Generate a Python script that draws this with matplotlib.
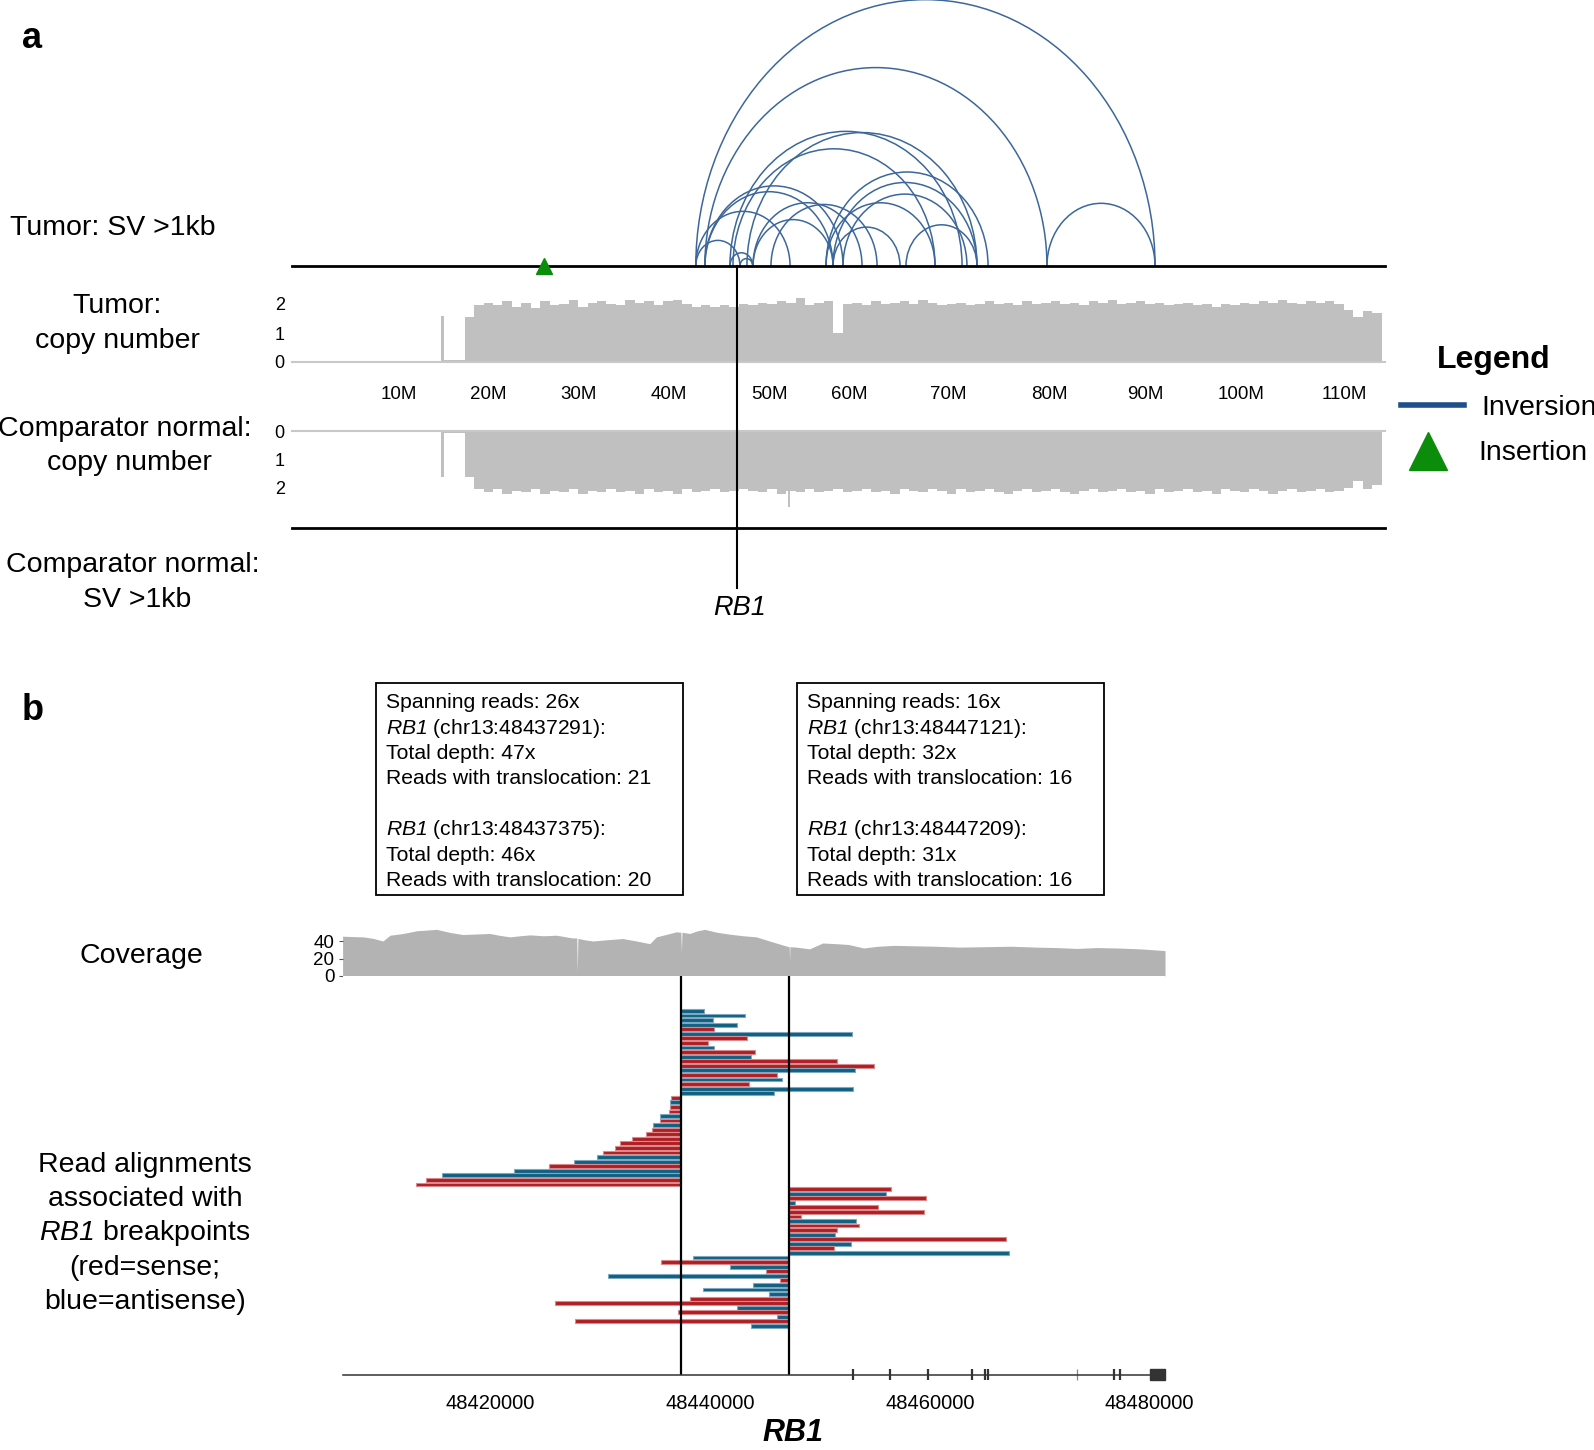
import matplotlib
matplotlib.use("Agg")
import matplotlib.pyplot as plt
from matplotlib.patches import Arc, Rectangle
from matplotlib.lines import Line2D
from matplotlib import transforms

# ---------------- panel a: chr13 overview (Mb) ----------------
inv_start = [41.45, 42.41, 78.59, 45.06, 46.86, 45.38, 42.41, 42.41, 41.45, 41.45, 45.06,
             46.12, 47.50, 55.22, 55.96, 49.40, 55.22, 55.96, 63.68, 47.50, 57.02]
inv_end = [90.02, 78.59, 90.02, 69.61, 71.19, 66.75, 57.02, 55.96, 51.42, 46.12, 47.47,
           47.47, 59.03, 72.36, 71.19, 60.62, 66.75, 63.05, 71.19, 55.96, 70.13]
insertion_pos = [25.4]
rb1_pos = 45.8

chr_tick_pos = [10.0, 19.46, 29.03, 38.6, 49.25, 57.7, 68.2, 78.8, 88.97, 99.1, 110.0]
chr_tick_labels = ["10M", "20M", "30M", "40M", "50M", "60M", "70M", "80M", "90M", "100M", "110M"]

cn_first_bin = 17  # 1 Mb bins, 17..113
tumor_cn = [1.55, 1.95, 2.05, 1.95, 2.10, 1.90, 2.05, 1.85, 2.10, 1.95,
            2.00, 2.15, 1.90, 2.05, 2.10, 2.00, 1.95, 2.15, 2.05, 2.10,
            1.95, 2.10, 2.15, 2.00, 1.90, 1.95, 1.90, 1.95, 1.90, 2.00,
            1.95, 2.05, 2.00, 2.10, 2.05, 2.20, 1.95, 2.05, 2.10, 1.00,
            2.00, 2.05, 1.95, 2.10, 2.00, 2.05, 2.10, 2.00, 2.15, 2.05,
            1.95, 2.00, 2.05, 1.95, 2.00, 2.10, 2.00, 2.05, 1.95, 2.10,
            2.00, 2.05, 2.10, 2.00, 2.05, 1.95, 2.10, 2.05, 2.15, 2.00,
            2.05, 2.10, 2.00, 2.05, 1.95, 2.00, 2.05, 1.95, 2.00, 1.90,
            2.00, 1.95, 2.05, 2.00, 2.10, 2.05, 2.15, 2.05, 2.00, 2.10,
            2.05, 2.10, 2.00, 1.80, 1.55, 1.75, 1.70]
normal_cn = [1.60, 2.05, 2.15, 2.05, 2.20, 2.10, 2.15, 2.05, 2.20, 2.10,
             2.15, 2.05, 2.20, 2.10, 2.15, 2.05, 2.15, 2.10, 2.20, 2.05,
             2.15, 2.10, 2.20, 2.05, 2.15, 2.10, 2.05, 2.15, 2.10, 2.05,
             2.10, 2.15, 2.05, 2.20, 2.10, 2.15, 2.05, 2.15, 2.10, 2.05,
             2.15, 2.10, 2.05, 2.15, 2.10, 2.20, 2.05, 2.10, 2.15, 2.05,
             2.10, 2.20, 2.05, 2.15, 2.10, 2.05, 2.15, 2.20, 2.10, 2.05,
             2.15, 2.10, 2.05, 2.15, 2.20, 2.10, 2.05, 2.15, 2.10, 2.05,
             2.15, 2.10, 2.20, 2.05, 2.15, 2.10, 2.05, 2.15, 2.10, 2.20,
             2.05, 2.10, 2.15, 2.05, 2.10, 2.20, 2.10, 2.05, 2.15, 2.10,
             2.05, 2.15, 2.10, 2.00, 1.75, 2.05, 1.90]
# narrow segments outside the 1 Mb bins: start, end, value
tumor_seg_start = [14.55, 14.85]
tumor_seg_end = [14.85, 17.0]
tumor_seg_val = [1.6, 0.06]
normal_seg_start = [14.55, 14.85, 51.2]
normal_seg_end = [14.85, 17.0, 51.45]
normal_seg_val = [1.6, 0.06, 2.65]

# ---------------- panel b: RB1 breakpoints (bp) ----------------
bp1 = 48437300
bp2 = 48447200

cov_pos = [48406525, 48407500, 48408400, 48409300, 48410200, 48410850, 48412000, 48413270,
           48414200, 48415090, 48416300, 48417480, 48418700, 48419940, 48420800, 48421760,
           48422700, 48423580, 48424800, 48426000, 48427450, 48427850, 48427900, 48427950,
           48428500, 48429310, 48430700, 48432040, 48433300, 48434500, 48435100, 48436000,
           48436920, 48437330, 48437380, 48437430, 48438140, 48438800, 48439500, 48440600,
           48441780, 48443000, 48444200, 48445690, 48447050, 48447200, 48447230, 48447260,
           48447840, 48449050, 48450240, 48451400, 48452600, 48453970, 48455300, 48456750,
           48458600, 48460450, 48462800, 48465070, 48467400, 48469700, 48471500, 48473400,
           48475200, 48477080, 48479200, 48481420]
cov_val = [45.5, 45, 44.7, 43, 40, 46.6, 48.5, 51.7,
           52.5, 53.3, 49.8, 47.4, 48, 48.6, 46.5, 44.7,
           46, 47, 46, 46.6, 43.5, 43.5, 4, 43,
           41.5, 40, 41.5, 42.8, 40, 36.9, 44.7, 47.5,
           50.5, 50, 27, 50, 48.6, 51.5, 53.3, 50,
           47.8, 46, 44.7, 38.9, 33.8, 33.5, 17.5, 33.5,
           33, 31, 37.7, 37, 36, 32, 34, 35,
           34.5, 34, 33, 33.5, 34, 33, 32.5, 31.5,
           32.5, 32, 31, 29]

exon_pos = [48453040, 48456360, 48459820, 48463860, 48465030, 48465320, 48476780, 48477360]
minor_exon_pos = [48473410]
utr_start, utr_end = 48480050, 48481420
gene_ticks = [48420000, 48440000, 48460000, 48480000]

# reads starting at bp1 (going right)
g1_len = [2.12, 5.88, 3.00, 5.10, 3.09, 15.59, 6.04, 2.46, 3.09, 6.79, 6.40, 14.25, 17.59,
          15.89, 8.83, 9.22, 6.25, 15.71, 8.52]
g1_strand = list("bbbbrbrrbrbrrbrbrbb")
# reads ending at bp1 (going left)
g2_len = [0.88, 0.97, 0.97, 1.06, 1.91, 1.91, 2.52, 2.58, 3.15, 4.40, 5.55, 5.94, 7.04,
          7.58, 9.68, 11.98, 15.20, 21.69, 23.20, 24.11]
g2_strand = list("rbrrbrbrrrrrrbbrbbrr")
# reads starting at bp2 (going right)
g3_len = [9.31, 8.77, 12.41, 0.55, 8.07, 12.25, 1.09, 6.07, 6.37, 4.34, 4.19, 19.72, 5.58,
          4.09, 20.02]
g3_strand = list("rbrbrrrbrrbrbrb")
# reads ending at bp2 (going left)
g4_len = [8.74, 11.71, 5.40, 2.15, 16.53, 0.85, 3.34, 7.83, 1.85, 9.04, 21.32, 4.73, 10.16,
          1.15, 19.47, 3.49]
g4_strand = list("brbrbrbbbrrbrbrb")

box1_lines = ["Spanning reads: 26x", r"$RB1$ (chr13:48437291):", "Total depth: 47x",
              "Reads with translocation: 21", "", r"$RB1$ (chr13:48437375):",
              "Total depth: 46x", "Reads with translocation: 20"]
box2_lines = ["Spanning reads: 16x", r"$RB1$ (chr13:48447121):", "Total depth: 32x",
              "Reads with translocation: 16", "", r"$RB1$ (chr13:48447209):",
              "Total depth: 31x", "Reads with translocation: 16"]

# ---------------- style ----------------
plt.rcParams["font.family"] = ["Liberation Sans", "DejaVu Sans"]
plt.rcParams["mathtext.fontset"] = "custom"
plt.rcParams["mathtext.rm"] = "Liberation Sans:italic"
plt.rcParams["mathtext.it"] = "Liberation Sans:italic"

ARC = "#3c679a"
GREEN = "#0b8c0b"
GRAY = "#c0c0c0"
STRAND = {"r": "#af1e23", "b": "#0f5f82"}
STRAND_EDGE = {"r": "#d98a8d", "b": "#7fa8c0"}

W, H = 1594, 1450
fig = plt.figure(figsize=(W / 100, H / 100), dpi=100)


def px_axes(x0, y0, x1, y1):
    return fig.add_axes([x0 / W, 1 - y1 / H, (x1 - x0) / W, (y1 - y0) / H])


def label(x, y, s, **kw):
    kw.setdefault("fontsize", 20.5)
    kw.setdefault("ha", "center")
    kw.setdefault("va", "center")
    return fig.text(x / W, 1 - y / H, s, **kw)


def clean(ax):
    for sp in ax.spines.values():
        sp.set_visible(False)
    ax.set_xticks([])


# ---------------- panel a ----------------
X0, X1 = 291.8, 1384.6
XL = (-1.28, 114.3)
PX_PER_MB = (X1 - X0) / (XL[1] - XL[0])

ax_t = px_axes(X0, 290, X1, 362)
ax_t.bar(range(cn_first_bin, cn_first_bin + len(tumor_cn)), tumor_cn, width=1.0,
         align="edge", color=GRAY, lw=0)
ax_t.bar(tumor_seg_start, tumor_seg_val,
         width=[e - s for s, e in zip(tumor_seg_start, tumor_seg_end)],
         align="edge", color=GRAY, lw=0)
ax_t.axhline(0, color="#c8c8c8", lw=1.5, clip_on=False)
ax_t.set_xlim(XL)
ax_t.set_ylim(0, 72 / 29)
clean(ax_t)
ax_t.set_yticks([0, 1, 2])
ax_t.tick_params(axis="y", length=0, pad=5, labelsize=13)

ax_n = px_axes(X0, 431, X1, 510)
ax_n.bar(range(cn_first_bin, cn_first_bin + len(normal_cn)), normal_cn, width=1.0,
         align="edge", color=GRAY, lw=0)
ax_n.bar(normal_seg_start, normal_seg_val,
         width=[e - s for s, e in zip(normal_seg_start, normal_seg_end)],
         align="edge", color=GRAY, lw=0)
ax_n.axhline(0, color="#c8c8c8", lw=1.5, clip_on=False)
ax_n.set_xlim(XL)
ax_n.set_ylim(79 / 28.5, 0)
clean(ax_n)
ax_n.set_yticks([0, 1, 2])
ax_n.tick_params(axis="y", length=0, pad=5, labelsize=13)

trans = transforms.blended_transform_factory(ax_t.transData, fig.transFigure)
for p, lab in zip(chr_tick_pos, chr_tick_labels):
    fig.text(p, 1 - 394.5 / H, lab, transform=trans, ha="center", va="center", fontsize=13.5)

# structural variant arcs on top
ax_sv = px_axes(X0, 0, X1, 266)
ax_sv.set_zorder(5)
ax_sv.set_xlim(XL)
ax_sv.set_ylim(0, 266 / PX_PER_MB)
ax_sv.axis("off")
for s, e in zip(inv_start, inv_end):
    ax_sv.add_patch(Arc(((s + e) / 2, 0), e - s, (e - s) * 1.16, theta1=0, theta2=180,
                        color=ARC, lw=1.1))
ax_sv.plot(XL, [0, 0], color="black", lw=2, clip_on=False)
ax_sv.plot(XL, [-(528 - 266) / PX_PER_MB] * 2, color="black", lw=2, clip_on=False)
ax_sv.plot([rb1_pos, rb1_pos], [0, -(588 - 266) / PX_PER_MB], color="black", lw=1.5,
           clip_on=False)
ax_sv.plot(insertion_pos, [0] * len(insertion_pos), ls="none", marker="^", ms=11,
           color=GREEN, clip_on=False)

label(22, 38, "a", fontsize=26, fontweight="bold", ha="left")
label(10, 228, "Tumor: SV >1kb", ha="left")
label(117, 306, "Tumor:")
label(117, 341, "copy number")
label(125, 429, "Comparator normal:")
label(129, 463, "copy number")
label(133, 565, "Comparator normal:")
label(137, 600, "SV >1kb")
label(740, 608, "RB1", fontsize=19.5, fontstyle="italic")

# legend
label(1494, 360, "Legend", fontsize=23, fontweight="bold")
fig.add_artist(Line2D([1401 / W, 1464 / W], [1 - 404.6 / H] * 2, color="#1d4f8a", lw=4))
fig.add_artist(Line2D([1428 / W], [1 - 451 / H], ls="none", marker="^", ms=27, color=GREEN))
label(1481, 408, "Inversion", ha="left")
label(1478, 453, "Insertion", ha="left")

# ---------------- panel b ----------------
BX0, BX1 = 342.6, 1165
GXL = (48406525, 48481420)

label(22, 711, "b", fontsize=26, fontweight="bold", ha="left")

for bx, lines in ((376.1, box1_lines), (797.0, box2_lines)):
    fig.add_artist(Rectangle((bx / W, 1 - 894.8 / H), 307.1 / W, 211.5 / H, fill=False,
                             ec="black", lw=1.3, transform=fig.transFigure))
    for i, ln in enumerate(lines):
        if ln:
            label(bx + 10.2, 702.6 + 25.43 * i, ln, fontsize=15.2, ha="left")

ax_cov = px_axes(BX0, 925, BX1, 976)
ax_cov.fill_between(cov_pos, cov_val, color="#b3b3b3", lw=0)
ax_cov.set_xlim(GXL)
ax_cov.set_ylim(0, 51 / 0.875)
clean(ax_cov)
ax_cov.set_yticks([0, 20, 40])
ax_cov.tick_params(axis="y", length=3, width=0.8, pad=3, labelsize=13.5, color="#555")

ROW0, ROW1 = -7.667, 79.63
ax_r = px_axes(BX0, 976, BX1, 1374.5)
row = 0
for lens, strands, anchor, side in ((g1_len, g1_strand, bp1, 1), (g2_len, g2_strand, bp1, -1),
                                    (g3_len, g3_strand, bp2, 1), (g4_len, g4_strand, bp2, -1)):
    for ln, st in zip(lens, strands):
        left = anchor if side > 0 else anchor - ln * 1000
        ax_r.barh(row, ln * 1000, left=left, height=0.84, color=STRAND[st],
                  edgecolor=STRAND_EDGE[st], lw=0.8)
        row += 1
ax_r.vlines([bp1, bp2], ROW0, ROW1, color="black", lw=1.6)
ax_r.vlines(exon_pos, ROW1 - 1.2, ROW1 + 1.2, color="#333333", lw=1.6, clip_on=False)
ax_r.vlines(minor_exon_pos, ROW1 - 1.2, ROW1 + 1.2, color="#888888", lw=0.9, clip_on=False)
ax_r.add_patch(Rectangle((utr_start, ROW1 - 1.2), utr_end - utr_start, 2.4,
                         color="#333333", clip_on=False))
ax_r.set_xlim(GXL)
ax_r.set_ylim(ROW1, ROW0)
for k in ("top", "left", "right"):
    ax_r.spines[k].set_visible(False)
ax_r.spines["bottom"].set_color("#333333")
ax_r.spines["bottom"].set_linewidth(1.1)
ax_r.set_yticks([])
ax_r.set_xticks(gene_ticks)
ax_r.set_xticklabels([str(t) for t in gene_ticks])
ax_r.tick_params(axis="x", length=0, pad=14, labelsize=14.5)

label(793, 1433, "RB1", fontsize=22, fontweight="bold", fontstyle="italic")

label(141, 956, "Coverage")
for i, ln in enumerate(["Read alignments", "associated with", r"$RB1$ breakpoints",
                        "(red=sense;", "blue=antisense)"]):
    label(145, 1165.3 + 34.1 * i, ln)

fig.savefig("out.png", dpi=100)
